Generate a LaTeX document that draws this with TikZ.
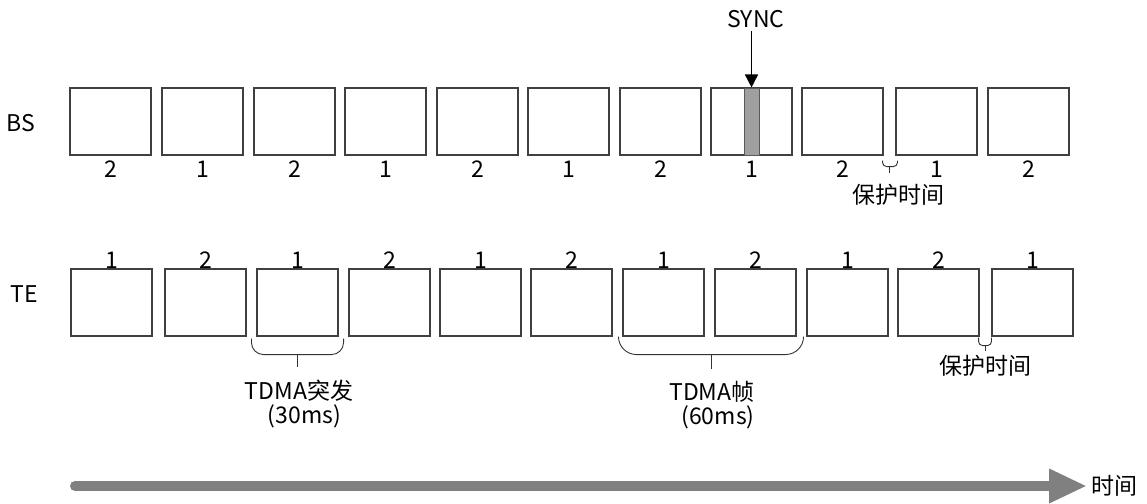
\documentclass[tikz,border=0pt]{standalone}
\usepackage{fontspec}
\setmainfont{Noto Sans CJK SC}
\usetikzlibrary{arrows.meta, positioning, calc}
\definecolor{myframe}{RGB}{64,64,64}
\definecolor{mysync}{RGB}{160,160,160}
\definecolor{mytime}{RGB}{128,128,128}
\tikzset{
  slot/.style={rectangle, draw=myframe, fill=white,
    minimum width=81pt, minimum height=67pt, inner sep=0pt, line width=1.1pt},
  syncbar/.style={rectangle, draw=black!65, fill=mysync,
    minimum width=15pt, minimum height=67pt, inner sep=0pt, line width=1pt},
  num/.style={inner sep=0pt},
  brace/.style={line width=0.9pt, color=black!80},
  syncarrow/.style={-{Triangle[width=13pt,length=13pt]}, line width=1.6pt, color=black},
  timearrow/.style={-{Triangle[width=32pt,length=38pt]}, line width=10pt,
    line cap=round, color=mytime}
}

\begin{document}
\begin{tikzpicture}[x=1pt, y=-1pt, font=\fontsize{23}{24}\selectfont]
  \useasboundingbox (0,0) rectangle (1147,503);

  % Row labels
  \node (bs) at (21,123) {BS};
  \node (te) at (24,294) {TE};

  % BS slots, numbers below
  \foreach \x/\n [count=\i] in {110.5/2, 202.5/1, 294.5/2, 385.5/1, 477.5/2, 568.5/1,
      660.5/2, 751.5/1, 842.5/2, 936.5/1, 1028.5/2} {
    \node[slot] (bs\i) at (\x,121.5) {};
    \node[num, below=5pt of bs\i] (bsn\i) {\n};
  }

  % TE slots, numbers above
  \foreach \x/\n [count=\i] in {111.5/1, 205.5/2, 297.5/1, 389.5/2, 480.5/1, 571.5/2,
      663.5/1, 755.5/2, 847.5/1, 938.5/2, 1032.5/1} {
    \node[slot] (te\i) at (\x,302.5) {};
    \node[num, above=0pt of te\i] (ten\i) {\n};
  }

  % SYNC burst
  \node[syncbar] (sbar) at (bs8.center) {};
  \node (sync) at (756,19) {SYNC};
  \draw[syncarrow] (bs8.north |- sync.south) -- (bs8.north);

  % Guard time (BS)
  \draw[brace, rounded corners=4pt] ($(bs9.south east)+(-1,5)$) -- ++(0,6)
    -- ($(bs10.south west)+(2,11)$) -- ++(0,-6);
  \draw[brace] ($(bs9.south east)!0.5!(bs10.south west)+(0,11)$) -- ++(0,6);
  \node (guardbs) at (898,195) {保护时间};

  % TDMA burst
  \draw[brace, rounded corners=12pt] ($(te3.south west)+(-5,2)$) -- ++(0,16)
    -- ($(te3.south east)+(5,18)$) -- ++(0,-16);
  \draw[brace] ($(te3.south)+(0,18)$) -- ++(0,12);
  \node[align=center] (burst) at (299,404) {TDMA突发\\\hspace*{11pt}(30ms)};

  % TDMA frame
  \draw[brace, rounded corners=18pt] ($(te7.south west)+(-4,0)$) -- ++(0,18)
    -- ($(te8.south east)+(7,18)$) -- ++(0,-18);
  \draw[brace] ($(te7.south west)!0.5!(te8.south east)+(1.5,18)$) -- ++(0,14);
  \node[align=center] (frame) at (712,405) {TDMA帧\\\hspace*{12pt}(60ms)};

  % Guard time (TE)
  \draw[brace, rounded corners=4pt] ($(te10.south east)+(-1,1)$) -- ++(0,8)
    -- ($(te11.south west)+(0,9)$) -- ++(0,-8);
  \draw[brace] ($(te10.south east)!0.5!(te11.south west)+(0,9)$) -- ++(0,5);
  \node (guardte) at (985,366) {保护时间};

  % Time axis
  \coordinate (tstart) at (75,486);
  \coordinate (tend) at (1087,486);
  \draw[timearrow] (tstart) -- (tend);
  \node[right=1pt of tend] (timelbl) {时间};
\end{tikzpicture}
\end{document}
